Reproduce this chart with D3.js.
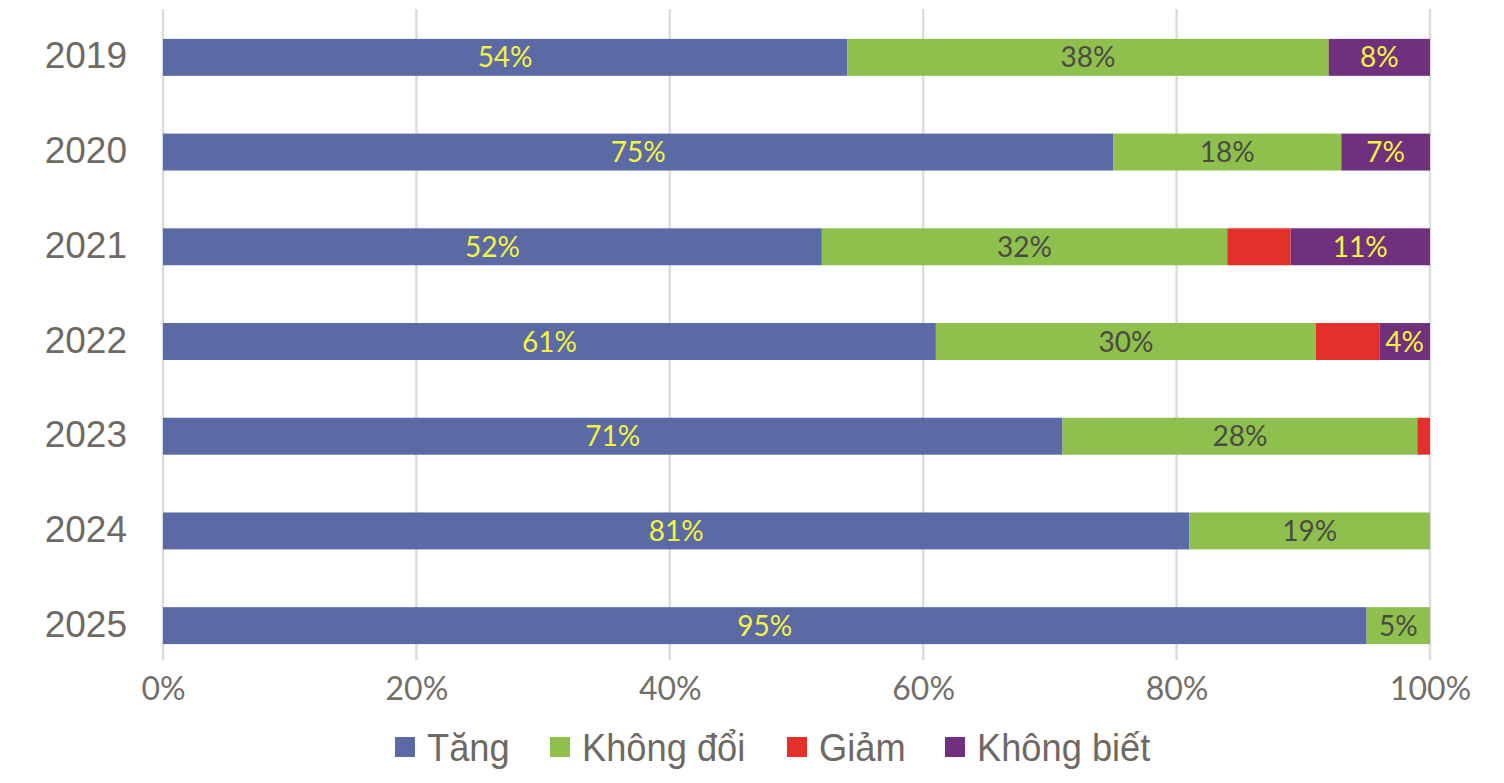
<!DOCTYPE html>
<html>
<head>
<meta charset="utf-8">
<script src="https://cdn.jsdelivr.net/npm/d3@7"></script>
<style>
  body { margin: 0; background: #fff; }
</style>
</head>
<body>
<div id="chart"></div>
<script>
// năm
const years = ["2019", "2020", "2021", "2022", "2023", "2024", "2025"]
// chuỗi
const seriesNames = ["Tăng", "Không đổi", "Giảm", "Không biết"]
const seriesColors = ["#5b69a5", "#8fbf4d", "#e3302a", "#71307e"]
const labelColors = ["#f4f442", "#4b4b44", null, "#f4f442"]
// giá trị (%)
const tang = [54, 75, 52, 61, 71, 81, 95]
const khongDoi = [38, 18, 32, 30, 28, 19, 5]
const giam = [0, 0, 5, 5, 1, 0, 0]
const khongBiet = [8, 7, 11, 4, 0, 0, 0]
// trục
const xTicks = [0, 20, 40, 60, 80, 100]

const width = 1504, height = 783
const svg = d3.select("#chart").append("svg")
  .attr("width", width).attr("height", height)

const rows = years.map((y, i) => ({
  year: y,
  "Tăng": tang[i], "Không đổi": khongDoi[i], "Giảm": giam[i], "Không biết": khongBiet[i]
}))

const stack = d3.stack().keys(seriesNames)(rows)

const x = d3.scaleLinear().domain([0, 100]).range([163, 1430])
const y = d3.scaleBand().domain(years).range([10, 673])
  .paddingInner(0.61).paddingOuter(0.305)

// lưới
svg.append("g")
  .selectAll("line")
  .data(xTicks)
  .join("line")
  .attr("x1", d => x(d)).attr("x2", d => x(d))
  .attr("y1", 9).attr("y2", 660)
  .attr("stroke", "#dcdcdc")
  .attr("stroke-width", 2.5)

// thanh
const layers = svg.append("g")
  .selectAll("g")
  .data(stack)
  .join("g")
  .attr("fill", (d, i) => seriesColors[i])

layers.selectAll("rect")
  .data(d => d)
  .join("rect")
  .attr("x", d => x(d[0]))
  .attr("y", d => y(d.data.year))
  .attr("width", d => x(d[1]) - x(d[0]))
  .attr("height", y.bandwidth())

// nhãn trên thanh
stack.forEach((layer, i) => {
  if (!labelColors[i]) return
  svg.append("g")
    .selectAll("text")
    .data(layer.filter(d => d[1] - d[0] > 0))
    .join("text")
    .attr("x", d => (x(d[0]) + x(d[1])) / 2)
    .attr("y", d => y(d.data.year) + y.bandwidth() / 2)
    .attr("dy", "0.36em")
    .attr("text-anchor", "middle")
    .attr("font-family", "Lato, 'Open Sans', sans-serif")
    .attr("font-size", "28px")
    .attr("fill", labelColors[i])
    .text(d => `${d[1] - d[0]}%`)
})

// trục y
svg.append("g")
  .selectAll("text")
  .data(years)
  .join("text")
  .attr("x", 127)
  .attr("y", d => y(d) + y.bandwidth() / 2)
  .attr("dy", "0.3em")
  .attr("text-anchor", "end")
  .attr("font-family", "'Liberation Sans', Arial, sans-serif")
  .attr("font-size", "37px")
  .attr("fill", "#6f6964")
  .text(d => d)

// trục x
const xAxis = d3.axisBottom(x).tickValues(xTicks).tickFormat(d => `${d}%`).tickSize(0).tickPadding(0)
const gx = svg.append("g").attr("transform", "translate(0,688)").call(xAxis)
gx.select(".domain").remove()
gx.selectAll("text")
  .attr("dy", "0.36em")
  .attr("y", 0)
  .attr("font-family", "Lato, 'Open Sans', sans-serif")
  .attr("font-size", "32px")
  .attr("fill", "#736e69")

// chú thích
const legendX = [395, 550, 787, 945]
const legend = svg.append("g")
  .selectAll("g")
  .data(seriesNames)
  .join("g")
  .attr("transform", (d, i) => `translate(${legendX[i]},747)`)
legend.append("rect")
  .attr("x", 0).attr("y", -10)
  .attr("width", 20).attr("height", 20)
  .attr("fill", (d, i) => seriesColors[i])
legend.append("text")
  .attr("transform", "translate(32,0) scale(0.93,1)")
  .attr("dy", "0.36em")
  .attr("font-family", "'Liberation Sans', Arial, sans-serif")
  .attr("font-size", "39px")
  .attr("fill", "#6f6964")
  .text(d => d)
</script>
</body>
</html>
